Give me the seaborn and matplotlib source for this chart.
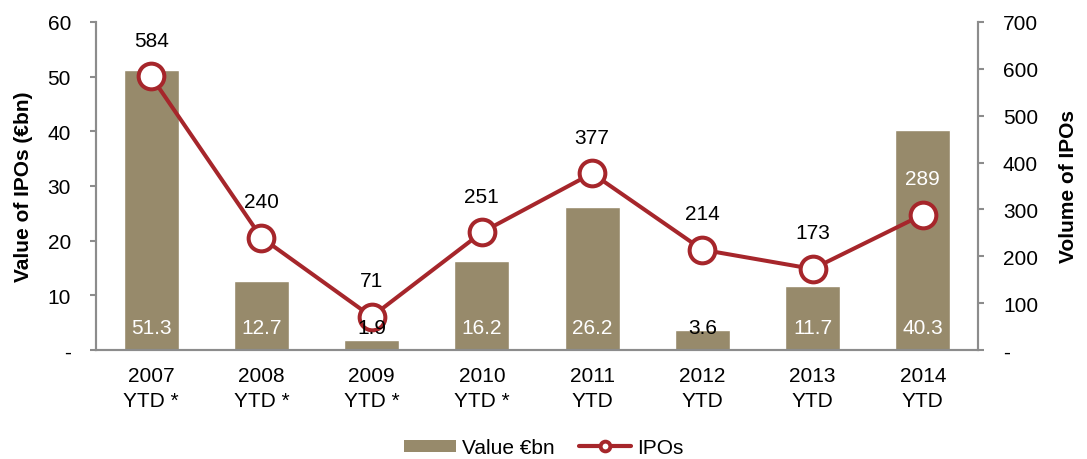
import matplotlib
matplotlib.use("Agg")
import matplotlib.pyplot as plt
from matplotlib.lines import Line2D
from matplotlib.patches import Patch
import pandas as pd
import seaborn as sns

# ===========
# DATA
# ===========

years = ["2007\nYTD *", "2008\nYTD *", "2009\nYTD *", "2010\nYTD *",
         "2011\nYTD", "2012\nYTD", "2013\nYTD", "2014\nYTD"]
value_bn = [51.3, 12.7, 1.9, 16.2, 26.2, 3.6, 11.7, 40.3]
ipo_count = [584, 240, 71, 251, 377, 214, 173, 289]

bar_color = "#978a6b"
line_color = "#a6262b"
spine_color = "#8c8c8c"
fs = 15

sns.set_style("white")
plt.rcParams["font.family"] = ["Liberation Sans", "DejaVu Sans"]
plt.rcParams["text.color"] = "black"
plt.rcParams["xtick.color"] = "black"
plt.rcParams["ytick.color"] = "black"
plt.rcParams["axes.labelcolor"] = "black"

df = pd.DataFrame({"year": years, "value": value_bn, "ipos": ipo_count})

fig = plt.figure(figsize=(10.87, 4.6), dpi=100)
ax = fig.add_axes([0.0883, 0.237, 0.8114, 0.713])
ax2 = ax.twinx()

sns.barplot(data=df, x="year", y="value", color=bar_color, width=0.5,
            saturation=1, ax=ax, zorder=1)
sns.pointplot(data=df, x="year", y="ipos", color=line_color, ax=ax2,
              markers="o", markersize=18.5, markerfacecolor="white",
              markeredgewidth=2.9, linewidth=2.9)

ax.set_xlim(-0.5, len(years) - 0.5)
ax.set_ylim(0, 60)
ax2.set_ylim(0, 700)

ax.set_yticks(range(0, 61, 10))
ax.set_yticklabels(["-"] + [str(v) for v in range(10, 61, 10)])
ax2.set_yticks(range(0, 701, 100))
ax2.set_yticklabels(["-"] + [str(v) for v in range(100, 701, 100)])

# ticks between categories
ax.set_xticks([i - 0.5 for i in range(len(years) + 1)], minor=True)
ax.tick_params(axis="x", which="major", length=0, pad=11.5, labelsize=fs)
ax.tick_params(axis="x", which="minor", length=4.5, direction="out",
               color=spine_color, width=1.5)
ax.tick_params(axis="y", length=4.5, direction="out", color=spine_color,
               width=1.5, labelsize=fs, left=True, pad=13.5)
ax2.tick_params(axis="y", length=4.5, direction="out", color=spine_color,
                width=1.5, labelsize=fs, right=True, pad=13.5)
ax2.tick_params(axis="x", which="both", length=0, labelbottom=False)
ax.set_xticks(range(len(years)))
ax.set_xticklabels(years, linespacing=1.4)

for a in (ax, ax2):
    a.spines["top"].set_visible(False)
    for s in ("left", "right", "bottom"):
        a.spines[s].set_color(spine_color)
        a.spines[s].set_linewidth(1.5)
    a.grid(False)

ax.set_xlabel("")
ax.set_ylabel("Value of IPOs (€bn)", fontsize=fs, fontweight="bold")
ax2.set_ylabel("Volume of IPOs", fontsize=fs, fontweight="bold")
ax.yaxis.set_label_coords(-0.0714, 0.5)
ax2.yaxis.set_label_coords(1.092, 0.5)

# bar value labels near the bottom of each bar
for i, v in enumerate(value_bn):
    col = "white" if v > 5 else "black"
    ax2.text(i, 0.07, f"{v:.1f}", transform=ax2.get_xaxis_transform(),
             ha="center", va="center", fontsize=fs, color=col, zorder=5)

# IPO count labels above the markers
for i, n in enumerate(ipo_count):
    label_level = n / 700 * 60 + 6.6
    col = "white" if label_level < value_bn[i] else "black"
    ax2.annotate(str(n), (i, n), xytext=(0, 26), textcoords="offset points",
                 ha="center", va="center", fontsize=fs, color=col)

handles = [Patch(facecolor=bar_color, edgecolor="none", label="Value €bn"),
           Line2D([], [], color=line_color, lw=3, marker="o", markersize=7,
                  markerfacecolor="white", markeredgewidth=2.8, label="IPOs")]
fig.legend(handles=handles, loc="center", bbox_to_anchor=(0.5, 0.025),
           ncol=2, frameon=False, fontsize=fs, handlelength=2.5,
           handleheight=0.5, columnspacing=1.15, handletextpad=0.3)

fig.savefig("out.png", dpi=100)
